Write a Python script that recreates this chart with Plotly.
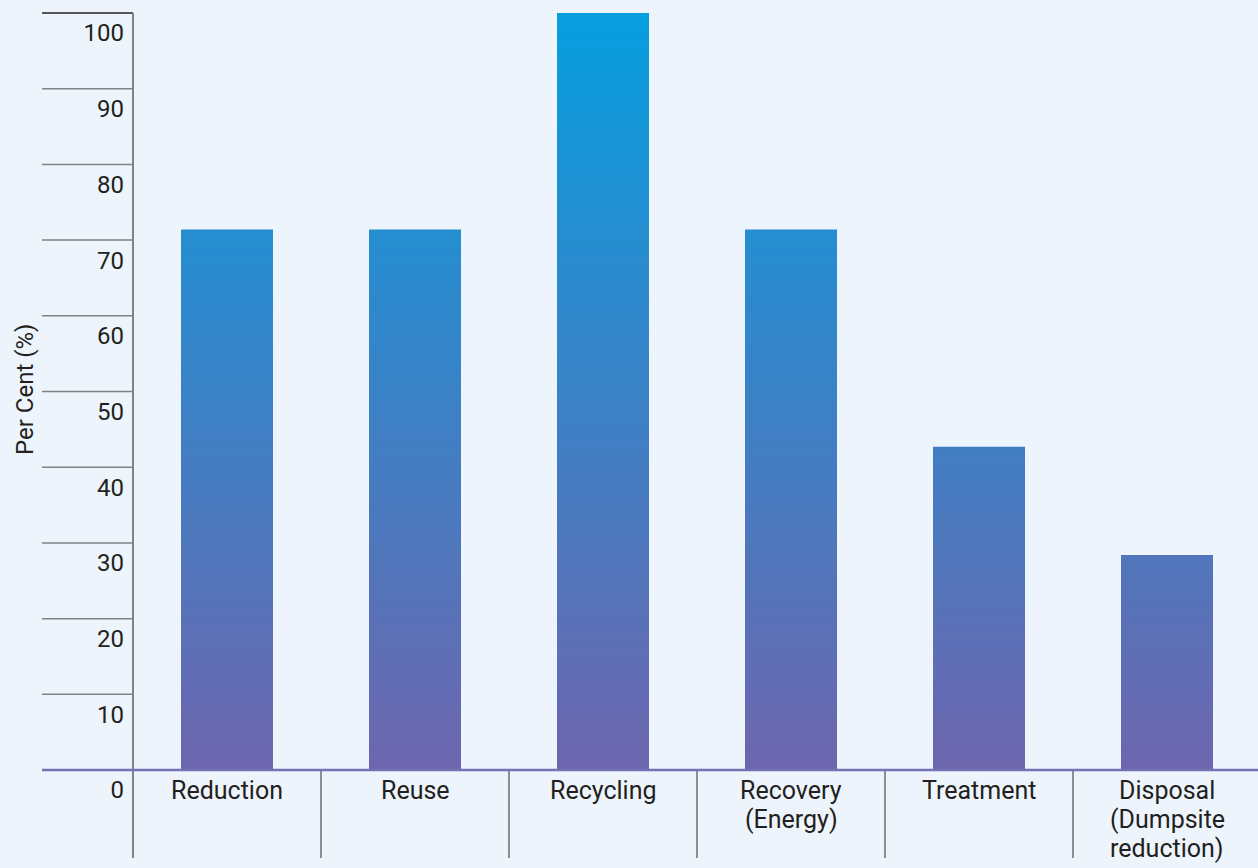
import plotly.graph_objects as go

# ---- data ----
categories = ["Reduction", "Reuse", "Recycling", "Recovery\n(Energy)", "Treatment",
              "Disposal\n(Dumpsite\nreduction)"]
values = [71.4, 71.4, 100.0, 71.4, 42.7, 28.4]
y_ticks = [0, 10, 20, 30, 40, 50, 60, 70, 80, 90, 100]
y_title = "Per Cent (%)"

# ---- styling ----
BG = "#EDF4FB"
TXT = "#231F20"
C_BOTTOM = (0x6E, 0x66, 0xAE)
C_TOP = (0x06, 0x9E, 0xDE)
FONT = "Roboto"
Y_RANGE = [-11.62, 101.72]
LEFT_PX, PLOT_W = 133, 1125
CAT_PX = 188                      # pixel width of one category slot
X_RANGE = [-0.5, -0.5 + PLOT_W / CAT_PX]
BAR_W = 92 / CAT_PX
GRID_X0 = (42 - LEFT_PX) / PLOT_W


def grad(t):
    t = max(0.0, min(1.0, t))
    r, g, b = (round(C_BOTTOM[i] + (C_TOP[i] - C_BOTTOM[i]) * t) for i in range(3))
    return f"rgb({r},{g},{b})"


# gradient: for every bar, overlapping bars from 0 to successively lower tops
# (tallest drawn first), each coloured by the gradient value at its top band
step = 0.5
xs, hs, cols = [], [], []
for i, v in enumerate(values):
    top = v
    while top > 1e-9:
        mid = max(top - step / 2, 0)
        xs.append(i)
        hs.append(top)
        cols.append(grad(mid / 100.0))
        top -= step

fig = go.Figure()
fig.add_trace(go.Bar(
    x=xs, y=hs, base=0, width=BAR_W,
    marker=dict(color=cols, line=dict(width=0)),
    hoverinfo="skip", showlegend=False,
))

shapes = []
# left grid lines (outside plot area, to the left of the axis)
for t in y_ticks[1:]:
    shapes.append(dict(type="line", xref="paper", yref="y", x0=GRID_X0, x1=0, y0=t, y1=t,
                       line=dict(color="#231F20" if t == 100 else "#808285", width=1.5)))
# left axis line
shapes.append(dict(type="line", xref="paper", yref="y", x0=0, x1=0, y0=Y_RANGE[0], y1=100,
                   line=dict(color="#808285", width=2)))
# category separators below baseline
for i in range(len(categories) - 1):
    shapes.append(dict(type="line", xref="x", yref="y", x0=i + 0.5, x1=i + 0.5,
                       y0=0, y1=Y_RANGE[0], line=dict(color="#6D6E71", width=1.5)))
# baseline
shapes.append(dict(type="line", xref="paper", yref="y", x0=GRID_X0, x1=1, y0=0, y1=0,
                   line=dict(color="#7670B4", width=2.5)))

annotations = []
for i, name in enumerate(categories):
    for j, line in enumerate(name.split("\n")):
        annotations.append(dict(x=i, y=0, xref="x", yref="y", text=line, showarrow=False,
                                yanchor="middle", xanchor="center", yshift=-(20 + 29 * j),
                                font=dict(family=FONT, size=25, color=TXT)))
annotations.append(dict(x=(25 - LEFT_PX) / PLOT_W, y=50.2, xref="paper", yref="y",
                        text=y_title, textangle=-90, showarrow=False,
                        xanchor="center", yanchor="middle",
                        font=dict(family=FONT, size=24, color=TXT)))

fig.update_layout(
    width=1258, height=868,
    margin=dict(l=LEFT_PX, r=0, t=0, b=10),
    paper_bgcolor=BG, plot_bgcolor=BG,
    barmode="overlay",
    shapes=shapes, annotations=annotations,
    xaxis=dict(range=X_RANGE, showgrid=False, zeroline=False,
               showticklabels=False, showline=False, ticks=""),
    yaxis=dict(range=Y_RANGE, tickvals=y_ticks, ticktext=[str(t) for t in y_ticks],
               showgrid=False, zeroline=False, showline=False, ticks="",
               ticklabelshift=20, ticklabelstandoff=8,
               tickfont=dict(family=FONT, size=24, color=TXT)),
    font=dict(family=FONT, color=TXT),
)

fig.write_html("out.html")
